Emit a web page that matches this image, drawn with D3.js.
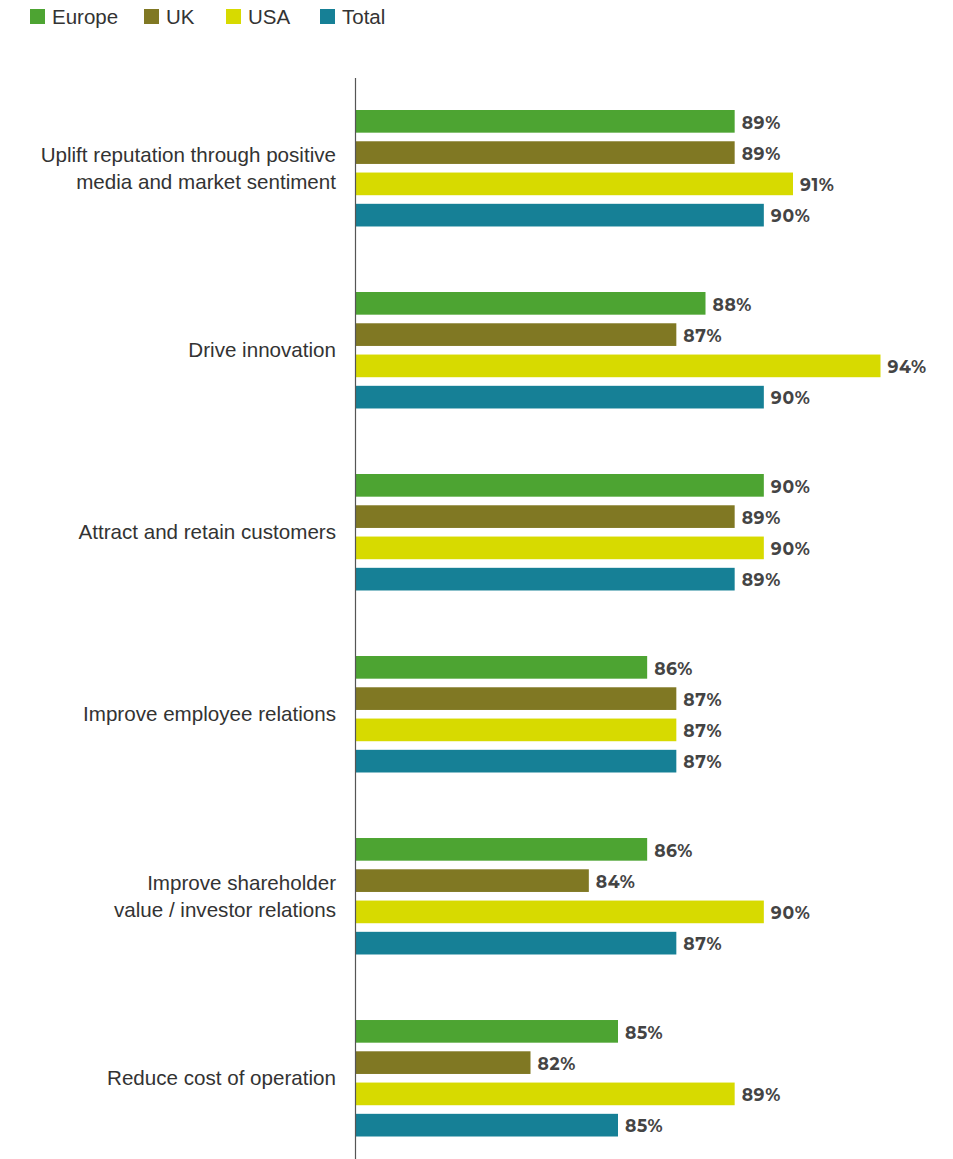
<!DOCTYPE html>
<html>
<head>
<meta charset="utf-8">
<script src="https://cdn.jsdelivr.net/npm/d3@7"></script>
<style>
  html, body { margin: 0; padding: 0; background: #fff; }
  svg { display: block; }
</style>
</head>
<body>
<div id="chart"></div>
<script>
// Survey results: share of respondents by region for each business benefit
const categories = [
  ["Uplift reputation through positive", "media and market sentiment"],
  ["Drive innovation"],
  ["Attract and retain customers"],
  ["Improve employee relations"],
  ["Improve shareholder", "value / investor relations"],
  ["Reduce cost of operation"]
];
const seriesNames = ["Europe", "UK", "USA", "Total"];
const europe = [89, 88, 90, 86, 86, 85];
const uk     = [89, 87, 89, 87, 84, 82];
const usa    = [91, 94, 90, 87, 90, 89];
const total  = [90, 90, 89, 87, 87, 85];
const seriesValues = [europe, uk, usa, total];
const colors = ["#4da432", "#807823", "#d7da00", "#168096"];

const width = 953, height = 1159;
const svg = d3.select("#chart").append("svg")
  .attr("width", width).attr("height", height);

const catKeys = categories.map(c => c.join(" "));

// Value axis is truncated: bars start at 76%
const x = d3.scaleLinear().domain([76, 94]).range([355.5, 880.5]);
const y0 = d3.scaleBand().domain(catKeys).range([110, 1136.5]).paddingInner(0.36).paddingOuter(0);
const y1 = d3.scaleBand().domain(seriesNames).range([0, y0.bandwidth()]).paddingInner(0.275).paddingOuter(0);

// Legend
const legend = svg.append("g").attr("class", "legend");
const legendX = [30, 144, 226, 320];
seriesNames.forEach((name, i) => {
  const g = legend.append("g").attr("transform", `translate(${legendX[i]},9)`);
  g.append("rect").attr("width", 15).attr("height", 15).attr("fill", colors[i]);
  g.append("text").attr("x", 22).attr("y", 15)
    .attr("font-family", "Liberation Sans, Arial, sans-serif")
    .attr("font-size", 20.5).attr("fill", "#333").text(name);
});

// Groups of bars
const groups = svg.append("g").selectAll("g")
  .data(categories.map((c, i) => ({ key: catKeys[i], lines: c, i })))
  .join("g")
  .attr("transform", d => `translate(0,${y0(d.key)})`);

groups.each(function(d) {
  const g = d3.select(this);
  const rows = seriesNames.map((s, j) => ({ s, j, v: seriesValues[j][d.i] }));
  g.selectAll("rect").data(rows).join("rect")
    .attr("x", x(76))
    .attr("y", r => y1(r.s))
    .attr("width", r => x(r.v) - x(76))
    .attr("height", y1.bandwidth())
    .attr("fill", r => colors[r.j]);
  g.selectAll("text.val").data(rows).join("text")
    .attr("class", "val")
    .attr("x", r => x(r.v) + 7)
    .attr("y", r => y1(r.s) + y1.bandwidth() / 2 + 1)
    .attr("dy", "0.36em")
    .attr("font-family", "Montserrat, 'Open Sans', sans-serif")
    .attr("font-weight", 700)
    .attr("font-size", 17.2)
    .attr("letter-spacing", 0.6)
    .attr("fill", "#444")
    .text(r => r.v + "%");

  // Category label, right aligned against the axis
  const cy = y0.bandwidth() / 2;
  const lh = 27;
  const n = d.lines.length;
  const label = g.append("text")
    .attr("text-anchor", "end")
    .attr("font-family", "Liberation Sans, Arial, sans-serif")
    .attr("font-size", 20.6)
    .attr("fill", "#333");
  d.lines.forEach((line, k) => {
    label.append("tspan")
      .attr("x", 336)
      .attr("y", cy + (k - (n - 1) / 2) * lh)
      .attr("dy", "0.35em")
      .text(line);
  });
});

// Vertical axis line
svg.append("line")
  .attr("x1", 355.5).attr("x2", 355.5)
  .attr("y1", 78).attr("y2", height)
  .attr("stroke", "#555").attr("stroke-width", 1.2);
</script>
</body>
</html>
